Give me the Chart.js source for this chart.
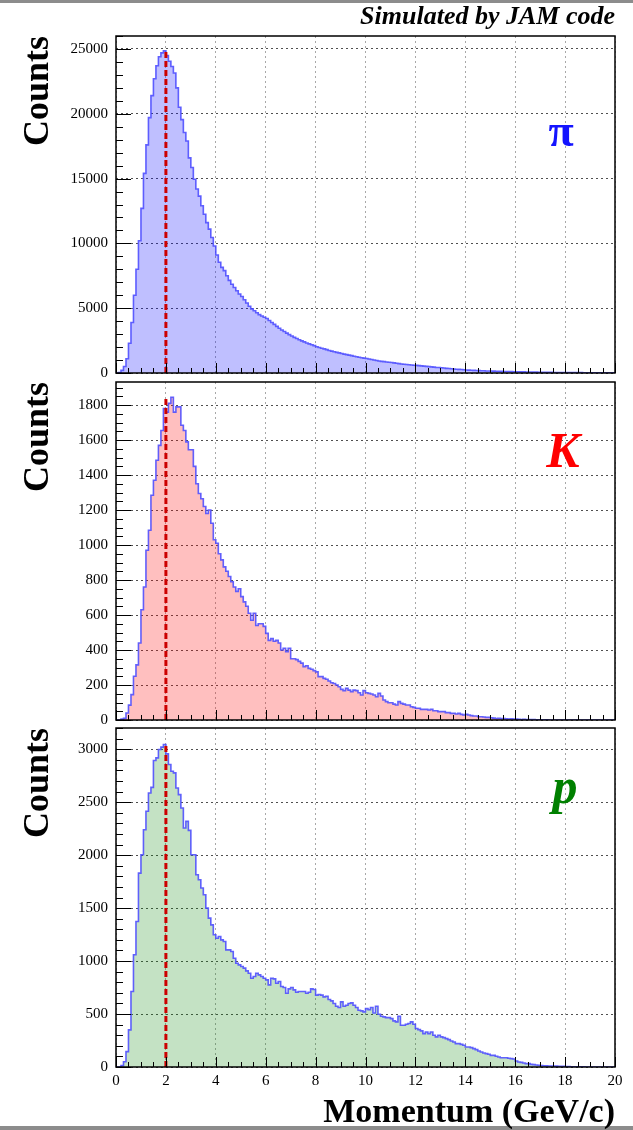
<!DOCTYPE html>
<html>
<head>
<meta charset="utf-8">
<script src="https://cdn.jsdelivr.net/npm/chart.js@4.4.1/dist/chart.umd.min.js"></script>
<style>
  html, body { margin: 0; padding: 0; background: #fff; }
  body { width: 633px; height: 1130px; position: relative; overflow: hidden; font-family: "Liberation Serif", "DejaVu Serif", serif; }
  .bar { position: absolute; left: 0; width: 633px; background: #8c8c8c; }
  canvas { position: absolute; left: 0; }
  .tag { position: absolute; font-weight: bold; line-height: 1; white-space: nowrap; }
</style>
</head>
<body>
<div class="bar" style="top:0;height:3px"></div>
<div class="bar" style="top:1126px;height:4px"></div>

<canvas id="pion" width="633" height="357" style="top:26px"></canvas>
<canvas id="kaon" width="633" height="358" style="top:372px"></canvas>
<canvas id="proton" width="633" height="412" style="top:718px"></canvas>

<div class="tag" style="right:18px;top:3px;font-size:26px;font-style:italic;color:#000">Simulated by JAM code</div>
<div class="tag" style="left:561px;top:131px;transform:translate(-50%,-50%);font-size:46px;color:#1414ff">π</div>
<div class="tag" style="left:563px;top:450px;transform:translate(-50%,-50%);font-size:50px;font-style:italic;color:#ff0000">K</div>
<div class="tag" style="left:565px;top:786px;transform:translate(-50%,-50%);font-size:50px;font-style:italic;color:#008000">p</div>

<script>
// momentum bins: 0 - 20 GeV/c, 0.1 GeV/c wide
const binWidth = 0.1;
const xMin = 0;
const xMax = 20;
const xTicks = [0, 2, 4, 6, 8, 10, 12, 14, 16, 18, 20];

const pionCounts = [
  0, 30, 200, 500, 1100, 2300, 3900, 6000, 8000, 10200,
  12700, 15400, 17600, 19700, 21400, 22700, 23700, 24400, 24700, 24850,
  24500, 24050, 23650, 23150, 22000, 20500, 19550, 18550, 17900, 16600,
  15850, 14950, 14200, 13650, 12900, 12250, 11600, 11100, 10450, 9800,
  9100, 8550, 8150, 7900, 7500, 7150, 6850, 6600, 6350, 6100,
  5900, 5650, 5400, 5150, 4950, 4800, 4650, 4500, 4400, 4300,
  4200, 4050, 3900, 3750, 3600, 3450, 3320, 3200, 3080, 2960,
  2850, 2750, 2660, 2570, 2480, 2400, 2320, 2250, 2180, 2110,
  2030, 1970, 1910, 1860, 1800, 1740, 1690, 1640, 1590, 1550,
  1500, 1460, 1420, 1380, 1340, 1290, 1250, 1210, 1180, 1150,
  1120, 1080, 1040, 1000, 960, 930, 900, 880, 850, 830,
  810, 780, 750, 720, 700, 680, 660, 640, 620, 600,
  590, 570, 550, 530, 510, 490, 470, 450, 430, 420,
  400, 380, 360, 345, 330, 310, 295, 280, 265, 250,
  235, 225, 215, 205, 195, 185, 175, 170, 160, 155,
  150, 145, 140, 132, 126, 120, 115, 110, 105, 100,
  96, 92, 88, 84, 80, 76, 72, 68, 64, 60,
  57, 54, 51, 48, 46, 44, 42, 40, 38, 36,
  34, 32, 30, 29, 28, 27, 26, 25, 24, 23,
  22, 21, 20, 19, 18, 17, 16, 15, 14, 13
];

const kaonCounts = [
  0, 0, 5, 10, 40, 85, 145, 250, 315, 440,
  630, 760, 970, 1085, 1285, 1370, 1485, 1570, 1655, 1780,
  1760, 1810, 1845, 1760, 1790, 1790, 1685, 1655, 1590, 1545,
  1545, 1450, 1350, 1295, 1265, 1220, 1180, 1200, 1125, 1030,
  1010, 950, 915, 875, 850, 820, 790, 760, 735, 750,
  705, 675, 650, 610, 570, 610, 540, 550, 550, 535,
  495, 455, 465, 450, 455, 440, 400, 410, 390, 410,
  350, 350, 345, 335, 325, 305, 310, 295, 290, 282,
  275, 248, 248, 238, 233, 223, 213, 209, 200, 190,
  175, 168, 181, 171, 162, 171, 168, 156, 143, 168,
  156, 152, 149, 143, 133, 152, 137, 114, 105, 99,
  99, 91, 86, 105, 95, 91, 86, 86, 76, 72,
  67, 67, 61, 61, 61, 57, 61, 53, 53, 48,
  48, 48, 42, 42, 38, 38, 34, 38, 32, 29,
  32, 29, 25, 23, 23, 19, 19, 17, 15, 15,
  13, 11, 9, 10, 8, 8, 7, 6, 7, 6,
  5, 4, 3, 4, 2, 3, 3, 2, 1, 1,
  1, 0, 1, 0, 0, 0, 0, 0, 0, 0,
  0, 0, 0, 0, 0, 0, 0, 0, 0, 0,
  0, 0, 0, 0, 0, 0, 0, 0, 0, 0
];

const protonCounts = [
  0, 0, 13, 50, 145, 350, 712, 1060, 1374, 1830,
  2004, 2240, 2414, 2587, 2640, 2893, 2918, 2997, 3019, 3044,
  2956, 2855, 2792, 2776, 2634, 2571, 2445, 2256, 2319, 2234,
  2004, 2004, 1815, 1768, 1689, 1626, 1500, 1405, 1342, 1248,
  1216, 1232, 1200, 1185, 1106, 1106, 1090, 1027, 980, 964,
  948, 933, 907, 885, 838, 854, 885, 870, 854, 838,
  822, 775, 838, 832, 790, 807, 760, 750, 696, 737,
  750, 728, 706, 712, 712, 712, 696, 706, 737, 731,
  678, 684, 678, 662, 668, 637, 624, 599, 574, 561,
  615, 574, 583, 599, 605, 583, 561, 536, 530, 520,
  551, 542, 561, 510, 574, 498, 479, 473, 466, 466,
  457, 435, 426, 479, 394, 394, 404, 410, 426, 404,
  363, 353, 341, 315, 331, 315, 331, 299, 284, 299,
  284, 277, 268, 258, 246, 236, 221, 221, 214, 205,
  189, 189, 183, 173, 164, 151, 142, 132, 126, 120,
  110, 110, 101, 95, 88, 88, 88, 82, 79, 76,
  57, 47, 44, 38, 32, 32, 25, 22, 19, 16,
  13, 12, 11, 10, 10, 9, 8, 7, 7, 6,
  5, 4, 3, 3, 2, 2, 1, 1, 0, 0,
  0, 0, 0, 0, 0, 0, 0, 0, 0, 0
];

// y axis ranges, labelled ticks and minor tick spacing per panel
const yMaxes = [26000, 1932, 3200];
const pionTicks = [0, 5000, 10000, 15000, 20000, 25000];
const kaonTicks = [0, 200, 400, 600, 800, 1000, 1200, 1400, 1600, 1800];
const protonTicks = [0, 500, 1000, 1500, 2000, 2500, 3000];
const yMinorSteps = [1000, 50, 100];

// dashed marker at p = 2 GeV/c, up to the peak
const markerMomentum = 2;
const markerTops = [24850, 1845, 3044];

const fillColors = ['rgba(0,0,255,0.25)', 'rgba(255,0,0,0.25)', 'rgba(0,128,0,0.23)'];

const serif = '"Liberation Serif", "DejaVu Serif", serif';

function toSteps(counts) {
  const pts = counts.map((c, i) => ({ x: xMin + i * binWidth, y: c }));
  pts.push({ x: xMax, y: counts[counts.length - 1] });
  return pts;
}

// ROOT-like frame with inward tick marks
const frameTicks = {
  id: 'frameTicks',
  afterDatasetsDraw(chart, args, opts) {
    const { ctx, chartArea: a, scales: { x, y } } = chart;
    ctx.save();
    ctx.strokeStyle = '#000';
    ctx.lineWidth = 1;
    ctx.beginPath();
    for (let v = 0; v <= opts.yMax; v += opts.yMinor) {
      const py = Math.round(y.getPixelForValue(v)) + 0.5;
      const len = opts.majors.includes(v) ? 15 : 7;
      ctx.moveTo(a.left, py);
      ctx.lineTo(a.left + len, py);
    }
    for (let v = xMin; v <= xMax; v += 0.5) {
      const px = Math.round(x.getPixelForValue(v)) + 0.5;
      const len = xTicks.includes(v) ? 10 : 5;
      ctx.moveTo(px, a.bottom);
      ctx.lineTo(px, a.bottom - len);
    }
    ctx.stroke();
    ctx.lineWidth = 1.5;
    ctx.strokeRect(a.left, a.top, a.right - a.left, a.bottom - a.top);
    ctx.restore();
  }
};

function drawPanel(id, idx, counts, yTicks, lastPanel) {
  const ctx = document.getElementById(id).getContext('2d');
  new Chart(ctx, {
    type: 'line',
    data: {
      datasets: [
        {
          data: [{ x: markerMomentum, y: 0 }, { x: markerMomentum, y: markerTops[idx] }],
          borderColor: '#cc0000',
          borderWidth: 3,
          borderDash: [6, 3],
          pointRadius: 0,
          fill: false,
          order: 0
        },
        {
          data: toSteps(counts),
          stepped: 'before',
          borderColor: 'rgba(70,70,255,0.85)',
          borderWidth: 1.6,
          backgroundColor: fillColors[idx],
          fill: 'origin',
          pointRadius: 0,
          order: 1
        }
      ]
    },
    options: {
      responsive: false,
      animation: false,
      layout: { padding: { top: 10, bottom: lastPanel ? 0 : 10, left: 0, right: 18 } },
      plugins: {
        legend: { display: false },
        tooltip: { enabled: false },
        frameTicks: { yMax: yMaxes[idx], yMinor: yMinorSteps[idx], majors: yTicks }
      },
      scales: {
        x: {
          type: 'linear',
          min: xMin,
          max: xMax,
          grid: { color: '#a8a8a8', lineWidth: 1, drawTicks: false },
          border: { display: false, dash: [2, 3] },
          ticks: {
            display: lastPanel,
            padding: 5,
            color: '#000',
            font: { family: serif, size: 15 }
          },
          afterBuildTicks(scale) {
            scale.ticks = xTicks.map((v) => ({ value: v }));
          },
          title: {
            display: lastPanel,
            text: 'Momentum (GeV/c)',
            align: 'end',
            color: '#000',
            font: { family: serif, size: 34, weight: 'bold', lineHeight: 1 },
            padding: { top: 0, bottom: 0 }
          },
          afterFit(scale) {
            scale.height = lastPanel ? 63 : 0;
            scale.paddingLeft = 0;
            scale.paddingRight = 0;
          }
        },
        y: {
          min: 0,
          max: yMaxes[idx],
          grid: { color: '#505050', lineWidth: 1, drawTicks: false },
          border: { display: false, dash: [2, 3] },
          ticks: {
            padding: 8,
            color: '#000',
            font: { family: serif, size: 15 },
            callback: (v) => String(v)
          },
          afterBuildTicks(scale) {
            scale.ticks = yTicks.map((v) => ({ value: v }));
          },
          title: {
            display: true,
            text: 'Counts',
            align: 'end',
            color: '#000',
            font: { family: serif, size: 36, weight: 'bold', lineHeight: 1 },
            padding: { top: 21, bottom: 0 }
          },
          afterFit(scale) {
            scale.width = 116;
            scale.paddingTop = 0;
            scale.paddingBottom = 0;
          }
        }
      }
    },
    plugins: [frameTicks]
  });
}

drawPanel('pion', 0, pionCounts, pionTicks, false);
drawPanel('kaon', 1, kaonCounts, kaonTicks, false);
drawPanel('proton', 2, protonCounts, protonTicks, true);
</script>
</body>
</html>
